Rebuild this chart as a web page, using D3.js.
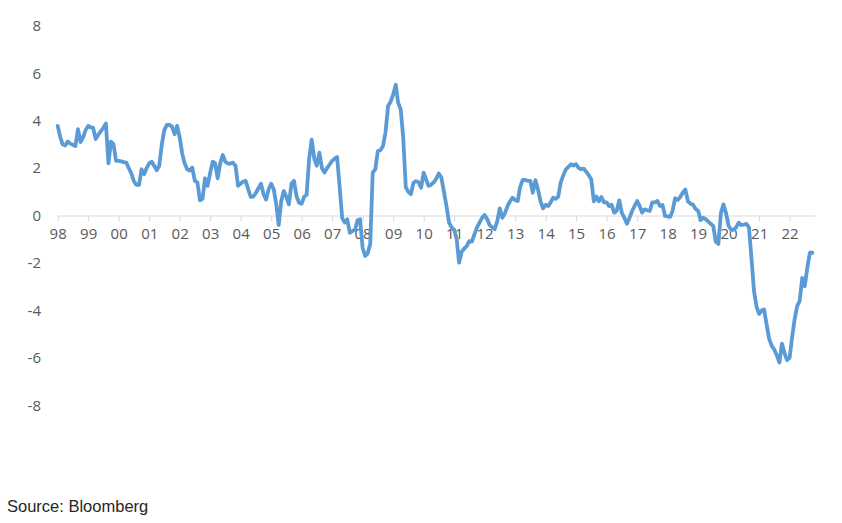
<!DOCTYPE html>
<html><head><meta charset="utf-8">
<script src="https://cdn.jsdelivr.net/npm/d3@7"></script>
<style>
html,body{margin:0;padding:0;background:#fff;}
svg{display:block;}
</style></head>
<body>
<svg id="chart" width="842" height="523"></svg>
<script>
// Monthly values, Jan 1998 .. Oct 2022
const startYear = 1998;
const values = [
  // 1998
  3.78, 3.3, 3.0, 2.95, 3.12, 3.03, 2.98, 2.93, 3.64, 3.1, 3.3, 3.6,
  // 1999
  3.78, 3.72, 3.7, 3.22, 3.4, 3.55, 3.7, 3.88, 2.2, 3.12, 3.0, 2.3,
  // 2000
  2.3, 2.28, 2.25, 2.23, 2.0, 1.77, 1.45, 1.29, 1.29, 1.95, 1.74, 2.0,
  // 2001
  2.2, 2.27, 2.1, 1.91, 2.1, 3.0, 3.6, 3.82, 3.82, 3.75, 3.43, 3.78,
  // 2002
  3.3, 2.6, 2.2, 1.95, 1.9, 2.02, 1.46, 1.4, 0.64, 0.7, 1.57, 1.25,
  // 2003
  1.8, 2.27, 2.2, 1.57, 2.2, 2.55, 2.27, 2.19, 2.19, 2.23, 2.1, 1.25,
  // 2004
  1.35, 1.43, 1.46, 1.1, 0.78, 0.8, 0.95, 1.15, 1.34, 0.9, 0.67, 1.1,
  // 2005
  1.34, 1.1, 0.5, -0.4, 0.6, 1.03, 0.8, 0.47, 1.34, 1.46, 0.8, 0.54,
  // 2006
  0.5, 0.8, 0.87, 2.4, 3.2, 2.4, 2.1, 2.65, 2.0, 1.81, 2.0, 2.15,
  // 2007
  2.3, 2.4, 2.47, 1.2, -0.1, -0.3, -0.16, -0.73, -0.65, -0.62, -0.2, -0.16,
  // 2008
  -1.36, -1.71, -1.6, -1.2, 1.81, 1.95, 2.72, 2.75, 2.93, 3.5, 4.62, 4.8,
  // 2009
  5.1, 5.51, 4.76, 4.48, 3.3, 1.2, 1.0, 0.9, 1.38, 1.45, 1.4, 1.17,
  // 2010
  1.81, 1.5, 1.25, 1.3, 1.4, 1.55, 1.77, 1.6, 1.0, 0.4, -0.3, -0.5,
  // 2011
  -0.6, -1.0, -1.99, -1.53, -1.4, -1.29, -1.08, -1.1, -0.8, -0.51, -0.3, -0.1,
  // 2012
  0.02, -0.15, -0.4, -0.5, -0.58, -0.23, 0.3, -0.1, 0.1, 0.4, 0.6, 0.75,
  // 2013
  0.65, 0.61, 1.2, 1.5, 1.5, 1.46, 1.46, 0.96, 1.49, 1.1, 0.6, 0.3,
  // 2014
  0.45, 0.4, 0.55, 0.75, 0.7, 0.8, 1.4, 1.7, 1.95, 2.05, 2.16, 2.1,
  // 2015
  2.16, 2.0, 1.95, 1.98, 1.85, 1.7, 1.53, 0.6, 0.8, 0.6, 0.78, 0.55,
  // 2016
  0.55, 0.4, 0.45, 0.12, 0.2, 0.64, 0.12, -0.1, -0.35, -0.1, 0.19, 0.4,
  // 2017
  0.61, 0.4, 0.12, 0.26, 0.22, 0.19, 0.55, 0.55, 0.61, 0.4, 0.44, -0.02,
  // 2018
  -0.04, -0.06, 0.19, 0.73, 0.65, 0.78, 0.96, 1.1, 0.6, 0.5, 0.45, 0.28,
  // 2019
  0.2, -0.2, -0.09, -0.15, -0.25, -0.35, -0.44, -1.1, -1.2, 0.1, 0.47, 0.1,
  // 2020
  -0.44, -0.6, -0.6, -0.5, -0.3, -0.4, -0.38, -0.35, -0.5, -1.8, -3.2, -3.85,
  // 2021
  -4.15, -4.0, -3.96, -4.6, -5.2, -5.5, -5.65, -5.9, -6.2, -5.4, -5.8, -6.1,
  // 2022
  -6.0, -5.1, -4.4, -3.82, -3.61, -2.63, -2.98, -2.2, -1.57, -1.57
];
const yTicks = [-8, -6, -4, -2, 0, 2, 4, 6, 8];
const xTickYears = d3.range(1998, 2023);
const sourceText = "Source: Bloomberg";

const data = values.map((v, i) => ({date: new Date(startYear, i, 1), value: v}));

const svg = d3.select("#chart");
const x = d3.scaleTime()
  .domain([new Date(1998, 0, 1), new Date(2022, 10, 1)])
  .range([57.7, 815]);
const y = d3.scaleLinear().domain([-8, 8]).range([405.2, 25.8]);

// y labels (no axis line)
svg.append("g").selectAll("text").data(yTicks).join("text")
  .attr("x", 41).attr("y", d => y(d)).attr("dy", "0.36em")
  .attr("text-anchor", "end")
  .attr("font-family", "'Open Sans', sans-serif").attr("font-size", 15)
  .attr("fill", "#595959")
  .text(d => d);

// x axis at zero
const xAxis = d3.axisBottom(x)
  .tickValues(xTickYears.map(yr => new Date(yr, 0, 1)))
  .tickFormat(d3.timeFormat("%y"))
  .tickSize(6).tickSizeOuter(0).tickPadding(7);
const gx = svg.append("g").attr("transform", `translate(0,${y(0)})`).call(xAxis);
gx.select(".domain").attr("stroke", "#d9d9d9").attr("stroke-width", 1);
gx.selectAll(".tick line").attr("stroke", "#d9d9d9");
gx.selectAll(".tick text")
  .attr("font-family", "'Open Sans', sans-serif").attr("font-size", 15)
  .attr("fill", "#595959");

// line
const line = d3.line().x(d => x(d.date)).y(d => y(d.value));
svg.append("path").datum(data)
  .attr("fill", "none").attr("stroke", "#5b9bd5")
  .attr("stroke-width", 3.8).attr("stroke-linejoin", "round").attr("stroke-linecap", "round")
  .attr("d", line);

svg.append("text").attr("x", 7).attr("y", 512)
  .attr("font-family", "'Liberation Sans', Arial, sans-serif").attr("font-size", 16.5)
  .attr("fill", "#262626").text(sourceText);
</script>
</body></html>
